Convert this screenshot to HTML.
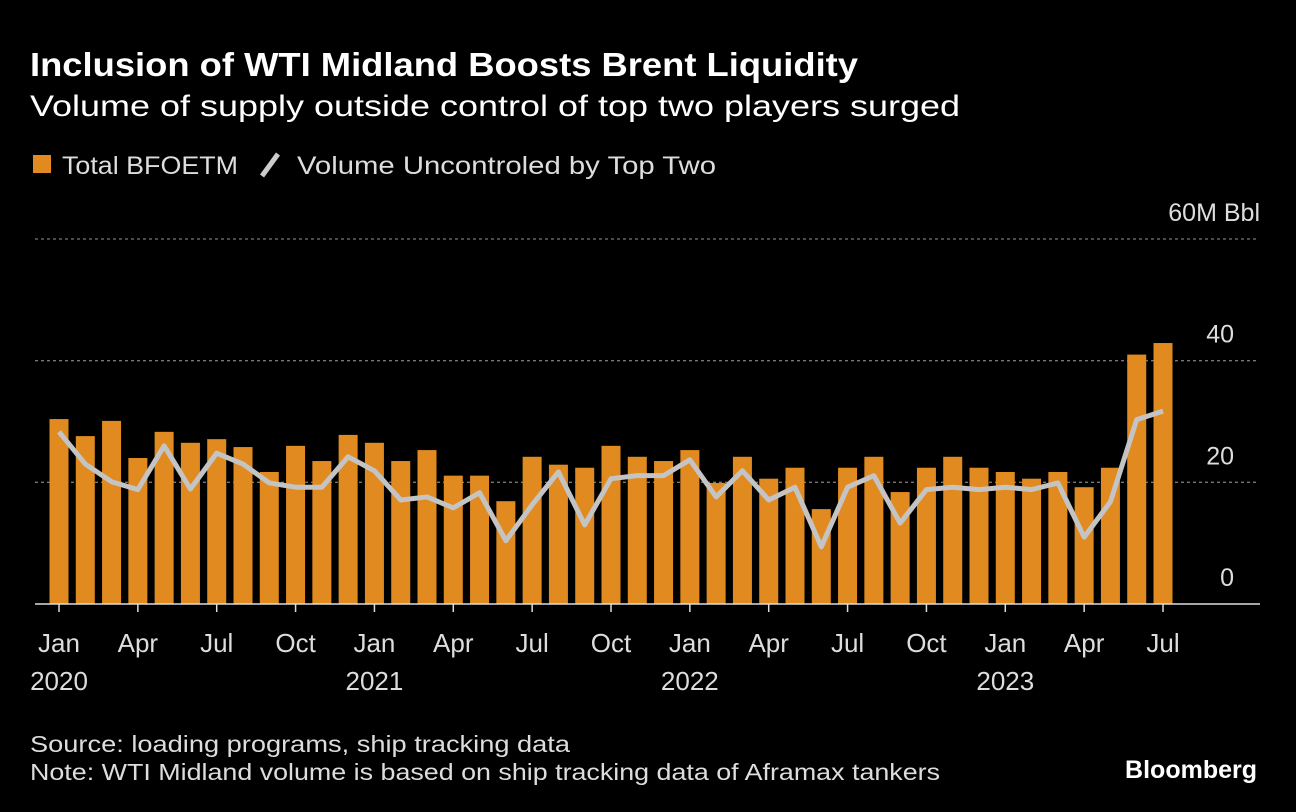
<!DOCTYPE html>
<html><head><meta charset="utf-8"><style>
body{margin:0;background:#000;width:1296px;height:812px;overflow:hidden;font-family:"Liberation Sans",sans-serif;color:#fff}
svg{position:absolute;left:0;top:0}
</style></head><body>
<svg width="1296" height="812">
<text x="30" y="76" font-size="33" font-weight="bold" fill="#fff" textLength="828" lengthAdjust="spacingAndGlyphs">Inclusion of WTI Midland Boosts Brent Liquidity</text>
<text x="30" y="116" font-size="30" fill="#fff" textLength="930" lengthAdjust="spacingAndGlyphs">Volume of supply outside control of top two players surged</text>
<g>
<rect x="33" y="155" width="18" height="18" fill="#e08a20"/>
<text x="62" y="174" font-size="25" fill="#ddd" textLength="176" lengthAdjust="spacingAndGlyphs">Total BFOETM</text>
<line x1="262" y1="176" x2="278" y2="154" stroke="#ccc" stroke-width="5"/>
<text x="297" y="174" font-size="25" fill="#ddd" textLength="419" lengthAdjust="spacingAndGlyphs">Volume Uncontroled by Top Two</text>
</g>
<g id="plot"></g>
<text x="30" y="752" font-size="23" fill="#ddd" textLength="540" lengthAdjust="spacingAndGlyphs">Source: loading programs, ship tracking data</text>
<text x="30" y="780" font-size="23" fill="#ddd" textLength="910" lengthAdjust="spacingAndGlyphs">Note: WTI Midland volume is based on ship tracking data of Aframax tankers</text>
<text x="1257" y="778" font-size="25" font-weight="bold" fill="#fff" text-anchor="end">Bloomberg</text>
</svg>
<script>
const totalBfoetm=[30.4,27.6,30.1,24.0,28.3,26.5,27.1,25.8,21.7,26.0,23.5,27.8,26.5,23.5,25.3,21.1,21.1,16.9,24.2,22.9,22.4,26.0,24.2,23.5,25.3,19.9,24.2,20.6,22.4,15.6,22.4,24.2,18.4,22.4,24.2,22.4,21.7,20.6,21.7,19.2,22.4,41.0,42.9];
const uncontrolled=[28.3,23.0,20.1,18.8,26.0,18.9,24.8,23.0,19.9,19.2,19.2,24.2,21.9,17.1,17.6,15.8,18.3,10.4,16.3,21.7,13.0,20.6,21.1,21.1,23.7,17.6,21.9,17.1,19.2,9.4,19.2,21.1,13.3,18.8,19.2,18.8,19.2,18.8,19.9,11.0,16.8,30.3,31.7];
const yTicks=[0,20,40,60];
const yTickLabels=["0","20","40","60M Bbl"];
const xTickIdx=[0,3,6,9,12,15,18,21,24,27,30,33,36,39,42];
const xTickLabels=["Jan","Apr","Jul","Oct","Jan","Apr","Jul","Oct","Jan","Apr","Jul","Oct","Jan","Apr","Jul"];
const yearIdx=[0,12,24,36];
const yearLabels=["2020","2021","2022","2023"];
const NS="http://www.w3.org/2000/svg";
const g=document.getElementById('plot');
const y=v=>604-v*(604-239)/60;
const x=i=>59+i*(1163-59)/42;
function mk(t,a){const e=document.createElementNS(NS,t);for(const k in a)e.setAttribute(k,a[k]);g.appendChild(e);return e;}
yTicks.forEach((v,i)=>{
 if(v>0){const l=mk('line',{x1:35,x2:1258,y1:y(v),y2:y(v),stroke:'#777','stroke-width':1.3,'stroke-dasharray':'3,3'});
 
 }
 const t=mk('text',{x:v===60?1260:1234,y:y(v)-18,'font-size':25,fill:'#ddd','text-anchor':'end'});t.textContent=yTickLabels[i];
 
 
});
totalBfoetm.forEach((v,i)=>{
 const r=mk('rect',{x:x(i)-9.5,y:y(v),width:19,height:y(0)-y(v),fill:'#e08a20'});
 
 
});
const base=mk('line',{x1:35,x2:1260,y1:604,y2:604,stroke:'#ddd','stroke-width':1.5});


const ln=mk('polyline',{points:uncontrolled.map((v,i)=>x(i)+','+y(v)).join(' '),fill:'none',stroke:'#c4c4c4','stroke-width':5,'stroke-linejoin':'round'});


xTickIdx.forEach((idx,k)=>{
 const tk=mk('line',{x1:x(idx),x2:x(idx),y1:604,y2:612,stroke:'#ddd','stroke-width':1.5});
 
 
 const t=mk('text',{x:x(idx),y:652,'font-size':26,fill:'#ddd','text-anchor':'middle'});t.textContent=xTickLabels[k];
 
 
});
yearIdx.forEach((idx,k)=>{
 const t=mk('text',{x:x(idx),y:690,'font-size':26,fill:'#ddd','text-anchor':'middle'});t.textContent=yearLabels[k];
 
 
});
</script>
</body></html>
